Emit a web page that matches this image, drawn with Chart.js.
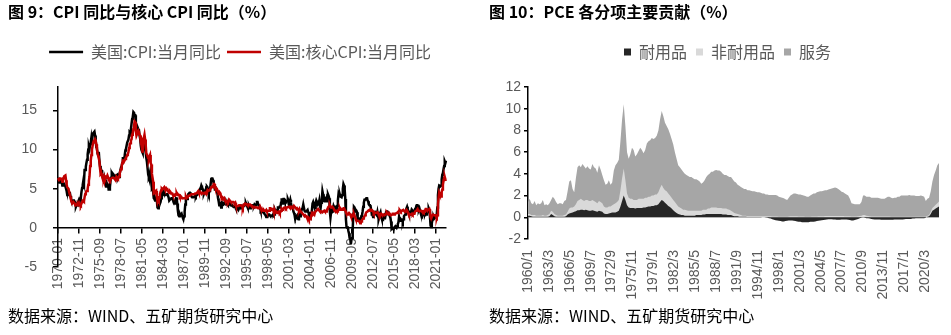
<!DOCTYPE html>
<html>
<head>
<meta charset="utf-8">
<script src="https://cdn.jsdelivr.net/npm/chart.js@4.4.1/dist/chart.umd.min.js"></script>
<style>
  body { margin: 0; background: #fff; width: 951px; height: 335px; overflow: hidden; position: relative;
         font-family: "Noto Sans CJK SC", sans-serif; }
  .panel { position: absolute; top: 0; width: 475px; height: 335px; }
  .title { position: absolute; top: 3px; font-size: 16px; line-height: 16px; font-weight: 700; color: #000; white-space: nowrap; }
  .src   { position: absolute; top: 307px; font-size: 16px; line-height: 16px; color: #000; white-space: nowrap; }
</style>
</head>
<body>
<div class="panel" style="left:0"><canvas id="cpi" width="475" height="335"></canvas></div>
<div class="panel" style="left:476px"><canvas id="pce" width="475" height="335"></canvas></div>
<div class="title" style="left:8px">图 9：CPI 同比与核心 CPI 同比（%）</div>
<div class="title" style="left:489px">图 10：PCE 各分项主要贡献（%）</div>
<div class="src" style="left:8px">数据来源：WIND、五矿期货研究中心</div>
<div class="src" style="left:489px">数据来源：WIND、五矿期货研究中心</div>

<script>
/* ── 图9 数据：美国 CPI / 核心 CPI 当月同比，1970-01 ~ 2022-05 ── */
const cpiYoY = [
  6.2,6.1,5.8,6.1,6.0,6.0,5.9,5.4,5.7,5.7,5.6,5.6,   // 1970
  5.3,5.0,4.7,4.2,4.4,4.6,4.4,4.6,4.1,3.8,3.4,3.3,
  3.3,3.5,3.5,3.5,3.2,2.7,2.9,2.9,3.2,3.4,3.6,3.4,
  3.6,3.9,4.6,5.1,5.5,6.0,5.7,7.4,7.4,7.8,8.3,8.7,
  9.4,10.0,10.4,10.1,10.7,10.9,11.5,10.9,11.9,12.1,12.2,12.3,
  11.8,11.2,10.3,10.2,9.5,9.3,9.7,8.6,7.9,7.4,7.4,6.9,
  6.7,6.3,6.1,6.0,6.2,5.9,5.3,5.7,5.5,5.5,4.9,4.9,
  5.2,6.0,6.4,6.9,6.7,6.9,6.8,6.6,6.6,6.4,6.7,6.7,
  6.8,6.4,6.6,6.5,7.0,7.4,7.7,7.9,8.3,8.9,8.9,9.0,
  9.3,9.9,10.1,10.5,10.9,10.9,11.3,11.8,12.2,12.1,12.6,13.3,
  13.9,14.2,14.8,14.7,14.4,14.4,13.1,12.9,12.6,12.8,12.6,12.5,   // 1980
  11.8,11.4,10.5,10.0,9.8,9.6,10.8,10.8,11.0,10.1,9.6,8.9,
  8.4,7.6,6.8,6.5,6.7,7.1,6.4,5.9,5.0,5.1,4.6,3.8,
  3.7,3.5,3.6,3.9,3.5,2.6,2.5,2.6,2.9,2.9,3.3,3.8,
  4.2,4.6,4.8,4.6,4.2,4.2,4.2,4.3,4.3,4.3,4.1,3.9,
  3.5,3.5,3.7,3.7,3.8,3.8,3.6,3.3,3.1,3.2,3.5,3.8,
  3.9,3.1,2.2,1.6,1.5,1.8,1.6,1.6,1.8,1.5,1.3,1.1,
  1.5,2.1,3.0,3.8,3.9,3.7,3.9,4.3,4.4,4.5,4.5,4.4,
  4.0,3.9,3.9,3.9,3.9,4.0,4.1,4.0,4.2,4.2,4.2,4.4,
  4.7,4.8,5.0,5.1,5.4,5.2,5.0,4.7,4.3,4.5,4.7,4.6,
  5.2,5.3,5.2,4.7,4.4,4.7,4.8,5.6,6.2,6.3,6.3,6.1,   // 1990
  5.7,5.3,4.9,4.9,5.0,4.7,4.4,3.8,3.4,2.9,3.0,3.1,
  2.6,2.8,3.2,3.2,3.0,3.1,3.2,3.1,3.0,3.2,3.0,2.9,
  3.3,3.2,3.1,3.2,3.2,3.0,2.8,2.8,2.7,2.8,2.7,2.7,
  2.5,2.5,2.5,2.4,2.3,2.5,2.8,2.9,3.0,2.6,2.7,2.7,
  2.8,2.9,2.9,3.1,3.2,3.0,2.8,2.6,2.5,2.8,2.6,2.5,
  2.7,2.7,2.8,2.9,2.9,2.8,3.0,2.9,3.0,3.0,3.3,3.3,
  3.0,3.0,2.8,2.5,2.2,2.3,2.2,2.2,2.2,2.1,1.8,1.7,
  1.6,1.4,1.4,1.4,1.7,1.7,1.7,1.6,1.5,1.5,1.5,1.6,
  1.7,1.6,1.7,2.3,2.1,2.0,2.1,2.3,2.6,2.6,2.6,2.7,
  2.7,3.2,3.8,3.1,3.2,3.7,3.7,3.4,3.5,3.4,3.4,3.4,   // 2000
  3.7,3.5,2.9,3.3,3.6,3.2,2.7,2.7,2.6,2.1,1.9,1.6,
  1.1,1.1,1.5,1.6,1.2,1.1,1.5,1.8,1.5,2.0,2.2,2.4,
  2.6,3.0,3.0,2.2,2.1,2.1,2.1,2.2,2.3,2.0,1.8,1.9,
  1.9,1.7,1.7,2.3,3.1,3.3,3.0,2.7,2.5,3.2,3.5,3.3,
  3.0,3.0,3.1,3.5,2.8,2.5,3.2,3.6,4.7,4.3,3.5,3.4,
  4.0,3.6,3.4,3.5,4.2,4.3,4.1,3.8,2.1,1.3,2.0,2.5,
  2.1,2.4,2.8,2.6,2.7,2.7,2.4,2.0,2.8,3.5,4.3,4.1,
  4.3,4.0,4.0,3.9,4.2,5.0,5.6,5.4,4.9,3.7,1.1,0.1,
  0.0,0.2,-0.4,-0.7,-1.3,-1.4,-2.1,-1.5,-1.3,-0.2,1.8,2.7,
  2.6,2.1,2.3,2.2,2.0,1.1,1.2,1.1,1.1,1.2,1.1,1.5,   // 2010
  1.6,2.1,2.7,3.2,3.6,3.6,3.6,3.8,3.9,3.5,3.4,3.0,
  2.9,2.9,2.7,2.3,1.7,1.7,1.4,1.7,2.0,2.2,1.8,1.7,
  1.6,2.0,1.5,1.1,1.4,1.8,2.0,1.5,1.2,1.0,1.2,1.5,
  1.6,1.1,1.5,2.0,2.1,2.1,2.0,1.7,1.7,1.7,1.3,0.8,
  -0.1,0.0,-0.1,-0.2,0.0,0.1,0.2,0.2,0.0,0.2,0.5,0.7,
  1.4,1.0,0.9,1.1,1.0,1.0,0.8,1.1,1.5,1.6,1.7,2.1,
  2.5,2.7,2.4,2.2,1.9,1.6,1.7,1.9,2.2,2.0,2.2,2.1,
  2.1,2.2,2.4,2.5,2.8,2.9,2.9,2.7,2.3,2.5,2.2,1.9,
  1.6,1.5,1.9,2.0,1.8,1.6,1.8,1.7,1.7,1.8,2.1,2.3,
  2.5,2.3,1.5,0.3,0.1,0.6,1.0,1.3,1.4,1.2,1.2,1.4,   // 2020
  1.4,1.7,2.6,4.2,5.0,5.4,5.4,5.3,5.4,6.2,6.8,7.0,
  7.5,7.9,8.5,8.3,8.6
];

const coreYoY = [
  6.1,6.2,6.2,6.3,6.3,6.2,6.3,5.9,6.3,6.3,6.6,6.6,   // 1970
  6.7,6.1,5.5,5.2,5.2,5.0,4.6,4.6,4.0,3.6,3.3,3.1,
  3.1,3.3,3.2,3.1,2.9,2.9,3.0,2.9,3.1,3.0,3.2,3.0,
  3.0,2.9,3.1,3.3,3.5,3.5,3.4,3.9,4.3,4.5,4.7,4.7,
  5.0,5.5,6.0,6.6,7.9,8.6,9.3,10.0,10.5,10.9,11.1,11.1,
  11.3,11.1,10.7,10.0,9.6,9.2,8.9,8.5,7.6,6.9,7.0,6.7,
  6.6,6.6,6.3,6.6,6.4,6.5,6.4,6.5,6.7,6.5,6.1,6.1,
  6.0,6.1,6.3,6.3,6.4,6.4,6.4,6.3,6.2,6.1,6.4,6.5,
  6.4,6.3,6.4,6.6,7.0,7.3,7.5,7.8,8.3,8.6,8.6,8.5,
  8.5,8.8,9.0,9.1,9.3,9.4,9.7,10.2,10.7,10.8,11.2,11.3,
  11.9,12.1,12.6,13.0,13.6,13.5,12.4,11.8,12.0,12.2,12.4,12.2,   // 1980
  11.9,11.8,11.0,10.6,10.1,9.6,11.4,11.5,11.9,11.3,10.5,9.5,
  9.4,9.1,8.9,8.8,9.1,9.3,8.3,8.1,6.9,6.4,5.9,4.5,
  4.6,4.7,4.6,4.7,4.0,3.4,3.7,3.5,3.9,4.3,4.6,4.8,
  5.0,4.9,5.0,5.1,5.2,5.0,5.0,5.1,5.0,4.8,4.7,4.7,
  4.5,4.7,4.6,4.4,4.4,4.4,4.2,4.1,4.1,4.2,4.3,4.3,
  4.4,4.2,4.3,4.2,4.2,4.0,4.1,4.0,3.9,3.8,3.8,3.8,
  3.8,3.8,3.8,4.0,3.8,3.9,4.0,4.1,4.1,4.1,4.2,4.2,
  4.3,4.3,4.3,4.3,4.3,4.3,4.4,4.4,4.4,4.5,4.5,4.7,
  4.5,4.5,4.6,4.5,4.4,4.5,4.5,4.4,4.4,4.4,4.5,4.4,
  4.4,4.6,4.8,4.7,4.7,4.8,4.9,5.0,5.2,5.2,5.3,5.2,   // 1990
  5.6,5.6,5.3,5.2,5.1,5.0,4.8,4.6,4.5,4.6,4.6,4.4,
  3.9,3.8,3.9,3.8,3.7,3.8,3.6,3.5,3.3,3.4,3.4,3.3,
  3.5,3.4,3.5,3.4,3.3,3.3,3.3,3.3,3.3,3.2,3.1,3.2,
  2.9,2.8,2.8,2.8,2.8,2.9,2.9,2.9,2.9,2.8,2.8,2.6,
  2.9,3.0,3.0,3.1,3.1,3.0,3.0,2.9,2.9,3.0,3.0,3.0,
  2.9,2.9,2.8,2.7,2.7,2.7,2.7,2.6,2.6,2.6,2.6,2.6,
  2.5,2.5,2.5,2.7,2.5,2.4,2.4,2.3,2.2,2.3,2.2,2.2,
  2.2,2.3,2.1,2.1,2.2,2.2,2.2,2.5,2.5,2.3,2.4,2.4,
  2.4,2.1,2.1,2.2,2.0,2.1,2.1,1.9,2.0,2.1,2.1,1.9,
  2.0,2.2,2.4,2.3,2.4,2.5,2.5,2.6,2.6,2.5,2.6,2.6,   // 2000
  2.6,2.7,2.7,2.6,2.5,2.7,2.7,2.7,2.6,2.6,2.8,2.7,
  2.6,2.6,2.4,2.5,2.5,2.3,2.2,2.4,2.2,2.2,2.0,1.9,
  1.9,1.7,1.7,1.5,1.6,1.5,1.5,1.3,1.2,1.3,1.1,1.1,
  1.1,1.2,1.6,1.8,1.7,1.9,1.8,1.7,2.0,2.0,2.2,2.2,
  2.3,2.4,2.3,2.2,2.2,2.0,2.1,2.1,2.0,2.1,2.1,2.2,
  2.1,2.1,2.1,2.3,2.4,2.6,2.7,2.8,2.9,2.7,2.6,2.6,
  2.7,2.7,2.5,2.3,2.2,2.2,2.2,2.1,2.1,2.2,2.3,2.4,
  2.5,2.3,2.4,2.3,2.3,2.4,2.5,2.5,2.5,2.2,2.0,1.8,
  1.7,1.8,1.8,1.9,1.8,1.7,1.5,1.4,1.5,1.7,1.7,1.8,
  1.6,1.3,1.1,0.9,0.9,0.9,0.9,0.9,0.8,0.6,0.8,0.8,   // 2010
  1.0,1.1,1.2,1.3,1.5,1.6,1.8,2.0,2.0,2.1,2.2,2.2,
  2.3,2.2,2.3,2.3,2.3,2.2,2.1,1.9,2.0,2.0,1.9,1.9,
  1.9,2.0,1.9,1.7,1.7,1.6,1.7,1.8,1.7,1.7,1.7,1.7,
  1.6,1.6,1.7,1.8,2.0,1.9,1.9,1.7,1.7,1.8,1.7,1.6,
  1.6,1.7,1.8,1.8,1.7,1.8,1.8,1.8,1.9,1.9,2.0,2.1,
  2.2,2.3,2.2,2.1,2.2,2.2,2.2,2.3,2.2,2.1,2.1,2.2,
  2.3,2.2,2.0,1.9,1.7,1.7,1.7,1.7,1.7,1.8,1.7,1.8,
  1.8,1.8,2.1,2.1,2.2,2.3,2.4,2.2,2.2,2.1,2.2,2.2,
  2.2,2.1,2.0,2.1,2.0,2.1,2.2,2.4,2.4,2.3,2.3,2.3,
  2.3,2.4,2.1,1.4,1.2,1.2,1.6,1.7,1.7,1.6,1.6,1.6,   // 2020
  1.4,1.3,1.6,3.0,3.8,4.5,4.3,4.0,4.0,4.6,4.9,5.5,
  6.0,6.4,6.5,6.2,6.0
];

/* ── 图10 数据：PCE 各分项贡献（季度读数），1960Q1 ~ 2022Q2 ── */
const pceDurables = [
  .15,.15,.1,.05, .05,.05,.05,.05, .05,.05,.05,.05, .05,.1,.3,.2, .1,.05,.05,.05,       // 1960-64
  .05,.05,.05,.1, .25,.35,.4,.45, .5,.55,.65,.65, .7,.7,.65,.7, .65,.6,.6,.65,          // 1965-69
  .6,.55,.5,.6, .55,.5,.35,.3, .3,.35,.4,.45, .45,.45,.5,.6, 1.0,1.5,2.0,1.6,           // 1970-74
  1.1,.9,.85,.85, .85,.8,.85,.85, .85,.85,.9,.9, .95,1.0,1.0,1.05, 1.05,1.1,1.1,1.2,    // 1975-79
  1.4,1.6,1.5,1.35, 1.2,1.05,.95,.8, .65,.5,.4,.3, .25,.2,.2,.15, .15,.15,.15,.15,      // 1980-84
  .15,.15,.2,.2, .2,.2,.25,.25, .3,.3,.3,.3, .3,.3,.3,.3, .3,.3,.25,.25,                // 1985-89
  .25,.2,.2,.2, .15,.1,.1,.1, .05,.05,.05,.05, .05,.02,.02,.02, .02,.02,.02,.02,        // 1990-94
  .02,.02,0,0, -.02,-.05,-.08,-.12, -.18,-.22,-.28,-.3, -.33,-.35,-.38,-.38, -.35,-.33,-.3,-.3,   // 1995-99
  -.3,-.32,-.35,-.38, -.4,-.42,-.45,-.45, -.45,-.45,-.45,-.42, -.42,-.4,-.38,-.35, -.32,-.3,-.28,-.25, // 2000-04
  -.22,-.2,-.18,-.18, -.18,-.2,-.2,-.22, -.22,-.22,-.2,-.2, -.2,-.2,-.22,-.25, -.3,-.3,-.25,-.2,       // 2005-09
  -.15,-.1,-.05,-.02, -.05,-.08,-.1,-.12, -.15,-.18,-.2,-.2, -.2,-.2,-.22,-.22, -.22,-.22,-.22,-.22,   // 2010-14
  -.22,-.22,-.2,-.2, -.2,-.2,-.2,-.2, -.18,-.15,-.15,-.15, -.15,-.12,-.12,-.1, -.1,-.1,-.1,-.1,        // 2015-19
  -.1,-.05,.05,.1, .3,.6,.7,.8, .9,1.0                                                                  // 2020-22
];
const pceNondurables = [
  .15,.15,.1,.15, .15,.1,.1,.1, .1,.15,.1,.1, .15,.2,.3,.3, .2,.15,.1,.1,
  .1,.1,.15,.15, .25,.45,.5,.45, .5,.65,.85,.95, 1.0,.9,.85,.9, .95,.9,.9,.95,
  .9,.85,.8,.9, .85,.8,.65,.6, .6,.65,.6,.65, .75,.85,.9,1.0, 1.5,2.1,2.5,1.8,
  1.1,.9,.85,.85, .75,.8,.75,.85, .85,.85,.8,.9, .85,.9,.9,.95, .95,1.0,1.0,1.1,
  1.3,1.4,1.2,1.15, 1.2,1.15,1.05,1.0, .95,.9,.8,.7, .65,.6,.5,.55, .5,.45,.45,.45,
  .45,.45,.4,.4, .4,.4,.45,.45, .4,.5,.5,.6, .6,.6,.6,.55, .55,.55,.55,.55,
  .55,.55,.5,.4, .35,.3,.25,.2, .2,.15,.1,.1, .1,.08,.08,.08, .08,.08,.08,.08,
  .08,.08,.1,.1, .1,.1,.1,.1, .08,.08,.08,.08, .05,.05,.05,.05, .05,.05,.08,.1,
  .1,.1,.1,.1, .08,.08,.08,.08, .06,.06,.06,.06, .08,.08,.08,.08, .1,.1,.1,.1,
  .12,.12,.12,.12, .12,.12,.12,.12, .12,.12,.12,.12, .1,.1,.1,.1, .08,.08,.08,.08,
  .1,.12,.15,.2, .2,.15,.12,.1, .08,.08,.08,.08, .08,.08,.08,.08, .08,.08,.08,.08,
  .06,.06,.06,.06, .06,.06,.06,.06, .06,.06,.06,.06, .06,.06,.06,.06, .06,.06,.06,.06,
  .06,.05,.1,.1, .2,.25,.3,.35, .4,.45
];
const pceServices = [
  1.1,1.4,1.1,1.0, 1.3,.95,1.15,1.05, 1.15,1.4,.95,1.05, .9,1.0,1.0,1.4, 1.4,1.2,1.05,1.15,
  1.15,1.05,1.3,1.35, 1.9,2.5,2.5,1.7, 1.3,2.4,3.1,3.2, 2.9,3.3,3.2,2.9, 3.1,3.0,2.9,3.3,
  3.1,3.1,2.8,3.3, 3.0,2.6,2.4,2.1, 2.2,2.4,2.0,2.1, 3.1,3.5,3.6,3.7, 4.5,5.4,5.9,5.0,
  3.8,3.6,4.1,4.7, 4.6,4.0,4.2,4.4, 4.7,4.5,4.2,4.4, 5.0,5.1,5.2,5.3, 5.2,5.2,5.4,5.7,
  6.3,6.8,6.6,6.2, 6.0,5.9,5.7,5.4, 5.1,4.6,4.2,3.8, 3.7,3.6,3.5,3.3, 3.25,3.2,3.1,3.1,
  3.0,2.9,2.9,2.8, 2.7,2.5,2.5,2.7, 3.0,3.1,3.2,3.3, 3.3,3.4,3.45,3.45, 3.45,3.35,3.2,3.1,
  3.1,3.05,3.0,3.1, 3.0,2.9,2.85,2.7, 2.65,2.6,2.55,2.45, 2.45,2.4,2.4,2.35, 2.3,2.3,2.25,2.2,
  2.2,2.15,2.1,2.1, 2.0,2.0,1.95,1.95, 1.97,1.97,1.97,1.92, 1.85,1.8,1.75,1.7, 1.6,1.55,1.72,1.9,
  2.0,2.1,2.1,2.05, 2.02,2.02,1.97,1.92, 1.89,1.84,1.84,1.94, 2.02,2.12,2.12,2.22, 2.25,2.3,2.3,2.35,
  2.38,2.38,2.43,2.48, 2.53,2.58,2.63,2.58, 2.48,2.38,2.23,2.18, 2.1,2.0,1.9,1.6, 1.22,1.17,1.12,1.12,
  1.1,1.08,1.25,1.8, 1.8,1.75,1.78,1.8, 1.72,1.72,1.72,1.72, 1.72,1.67,1.62,1.62, 1.62,1.72,1.82,1.82,
  1.74,1.69,1.74,1.74, 1.84,1.84,1.94,1.94, 1.94,1.94,1.94,1.99, 1.94,1.94,1.94,1.89, 1.89,1.89,1.94,1.89,
  1.84,1.45,1.55,1.6, 1.9,2.45,2.9,3.15, 3.5,3.55
];
const pceTickLabels = [
  "1960/1","1963/3","1966/5","1969/7","1972/9","1975/11","1979/1","1982/3","1985/5","1988/7",
  "1991/9","1994/11","1998/1","2001/3","2004/5","2007/7","2010/9","2013/11","2017/1","2020/3"
];

/* ── 类目：月份标签 ── */
const cpiMonths = [];
for (let i = 0; i < cpiYoY.length; i++) {
  const y = 1970 + Math.floor(i / 12), m = i % 12 + 1;
  cpiMonths.push(y + "-" + String(m).padStart(2, "0"));
}
const quarterPoints = arr => arr.map((v, i) => ({ x: i * 3, y: v }));   // 季度 → 月序号

/* ── 公共样式 ── */
const GRAY = "#595959";
const tickFont = { family: "'Liberation Sans', Arial, sans-serif", size: 14 };
const legendFont = { family: "'Noto Sans CJK SC', sans-serif", size: 16 };

// 图例：与绘图区之间留白 + 水平微调
const legendTweak = (gap, shift) => ({
  id: "legendTweak",
  beforeLayout(chart) {
    const lg = chart.legend;
    if (!lg || lg._patched) return;
    const fit = lg.fit;
    lg.fit = function () { fit.call(this); this.height += gap; };
    lg._patched = true;
  },
  afterLayout(chart) {
    chart.legend.left += shift;
    chart.legend.right += shift;
  }
});

/* ════════════════ 图9 ════════════════ */
new Chart(document.getElementById("cpi"), {
  type: "line",
  data: {
    labels: cpiMonths,
    datasets: [
      { label: "美国:CPI:当月同比", data: cpiYoY, borderColor: "#000", backgroundColor: "#000",
        borderWidth: 2.5, pointRadius: 0, order: 1 },
      { label: "美国:核心CPI:当月同比", data: coreYoY, borderColor: "#c00000", backgroundColor: "#c00000",
        borderWidth: 2.5, pointRadius: 0, order: 0 },
    ],
  },
  options: {
    responsive: false, animation: false, devicePixelRatio: 1,
    layout: { padding: { left: 0, right: 29, top: 38, bottom: 68 } },
    plugins: {
      legend: {
        labels: { usePointStyle: true, pointStyle: "line", pointStyleWidth: 34, padding: 6,
                  color: GRAY, font: legendFont, sort: (a, b) => a.datasetIndex - b.datasetIndex },
      },
      tooltip: { enabled: false },
    },
    scales: {
      x: {
        type: "category", position: { y: 0 }, offset: false,
        grid: { drawOnChartArea: false, drawTicks: true, tickLength: 5, color: "#000", lineWidth: 1.5 },
        border: { color: "#000", width: 1.5 },
        ticks: { autoSkip: false, minRotation: 90, maxRotation: 90, padding: 5, color: GRAY, font: tickFont },
        afterBuildTicks: s => { s.ticks = s.ticks.filter((t, i) => i % 34 === 0); },
      },
      y: {
        min: -5, max: 18,
        ticks: { stepSize: 5, includeBounds: false, padding: 16, color: GRAY, font: tickFont },
        grid: { drawOnChartArea: false, tickLength: 5, color: "#000", lineWidth: 1.5 },
        border: { color: "#000", width: 1.5 },
        afterFit: s => { s.width = 58; },
      },
    },
  },
  plugins: [legendTweak(17, 17)],
});

/* ════════════════ 图10 ════════════════ */
const area = (label, data, color) => ({
  label, data: quarterPoints(data), backgroundColor: color, borderColor: color,
  borderWidth: 0, pointRadius: 0, fill: "origin", tension: 0,
});

new Chart(document.getElementById("pce"), {
  type: "line",
  data: {
    datasets: [
      area("耐用品", pceDurables, "#262626"),
      area("非耐用品", pceNondurables, "#d9d9d9"),
      area("服务", pceServices, "#a6a6a6"),
    ],
  },
  options: {
    responsive: false, animation: false, devicePixelRatio: 1,
    layout: { padding: { left: 0, right: 12, top: 35, bottom: 0 } },
    plugins: {
      legend: {
        labels: { boxWidth: 7, boxHeight: 7, padding: 9, color: GRAY, font: legendFont },
      },
      tooltip: { enabled: false },
    },
    scales: {
      x: {
        type: "linear", min: 0, max: (pceServices.length - 1) * 3,
        grid: { display: false }, border: { display: false },
        ticks: { autoSkip: false, minRotation: 90, maxRotation: 90, padding: 3, color: GRAY, font: tickFont,
                 callback: v => pceTickLabels[v / 38] },
        afterBuildTicks: s => { s.ticks = pceTickLabels.map((l, i) => ({ value: i * 38 })); },
        afterFit: s => { s.height = 96; },
      },
      y: {
        stacked: true, min: -2, max: 12,
        ticks: { stepSize: 2, padding: 3, color: GRAY, font: tickFont },
        grid: { drawOnChartArea: false, tickLength: 4, color: "#000", lineWidth: 1.5 },
        border: { color: "#000", width: 1.5 },
        afterFit: s => { s.width = 52; },
      },
    },
  },
  plugins: [legendTweak(17, 20)],
});
</script>
</body>
</html>
